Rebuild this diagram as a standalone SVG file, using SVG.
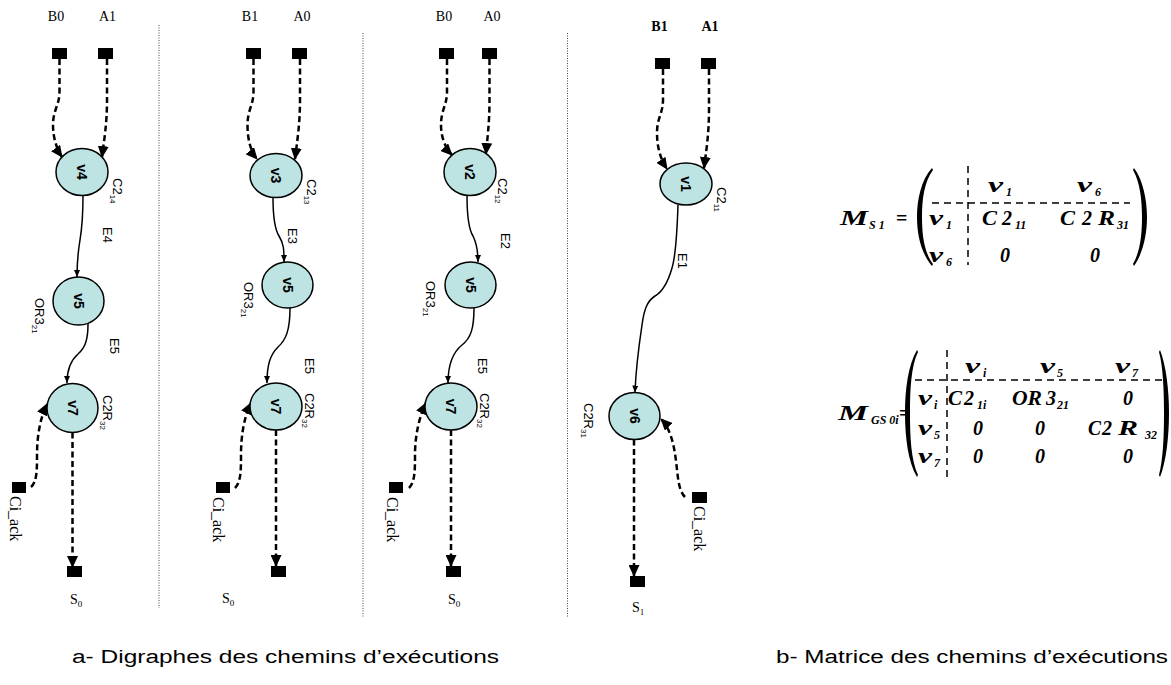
<svg xmlns="http://www.w3.org/2000/svg" width="1171" height="685" viewBox="0 0 1171 685">
<defs>
<style>
.nd ellipse{fill:#bde3e3;stroke:#000;stroke-width:1.5}
.sq{fill:#000}
.vl{font-family:"Liberation Sans",Arial,sans-serif;font-size:14px;font-weight:bold;text-anchor:middle}
.an{font-family:"Liberation Sans",Arial,sans-serif;font-size:13px}
.sr{font-family:"Liberation Serif","Times New Roman",serif;font-size:14px}
.ci{font-family:"Liberation Serif","Times New Roman",serif;font-size:16px}
.io{font-family:"Liberation Serif","Times New Roman",serif;font-size:14px;text-anchor:middle}
.dash{fill:none;stroke:#000;stroke-width:2.5;stroke-dasharray:6 3.5;marker-end:url(#big)}
.sol{fill:none;stroke:#000;stroke-width:1.5;marker-end:url(#small)}
.sep{stroke:#444;stroke-width:1;stroke-dasharray:1 1.5}
.mx{font-family:"Liberation Serif","Times New Roman",serif;font-size:20px;font-weight:bold;font-style:italic}
.ms{font-family:"Liberation Serif","Times New Roman",serif;font-size:12px;font-weight:bold;font-style:italic}
.eq{font-family:"Liberation Serif","Times New Roman",serif;font-size:20px;font-weight:bold}
.md{fill:none;stroke:#000;stroke-width:1.5;stroke-dasharray:7 5}
.cap{font-family:"Liberation Sans",Arial,sans-serif;font-size:18px}
</style>
<marker id="big" viewBox="0 0 12 11" refX="11" refY="5.5" markerWidth="12" markerHeight="11" markerUnits="userSpaceOnUse" orient="auto"><path d="M0,0 L12,5.5 L0,11 z" fill="#000" stroke="none"/></marker>
<marker id="small" viewBox="0 0 7 6" refX="7" refY="3" markerWidth="7" markerHeight="6" markerUnits="userSpaceOnUse" orient="auto"><path d="M0,0 L7,3 L0,6 z" fill="#000" stroke="none"/></marker>
</defs>
<rect width="1171" height="685" fill="#fff"/>

<g id="separators">
<line class="sep" x1="159" y1="25" x2="159" y2="608"/>
<line class="sep" x1="363" y1="33" x2="363" y2="617"/>
<line class="sep" x1="567.5" y1="33" x2="567.5" y2="618"/>
</g>

<g id="connectors">
<!-- panel 1 -->
<path class="dash" d="M59.5,59 L59.5,92 C59.5,105 53,110 53,125 C53,138 57,150 62,157"/>
<path class="dash" d="M107,59 L107,100 C107,125 104,140 102,157"/>
<path class="sol" d="M83,195.5 C83,215 82,228 80,240 C78,252 77,262 77,277"/>
<path class="sol" d="M88,324 C88,340 85,348 78,354 C70,361 67,370 67,383"/>
<path class="dash" d="M31,487 C37,482 37,470 37,455 C37,437 40,418 47,404"/>
<path class="dash" d="M72.5,432.5 L72.5,567"/>
<text class="an" transform="translate(103,227) rotate(90)">E4</text>
<text class="an" transform="translate(110,338) rotate(90)">E5</text>
<!-- panel 2 -->
<path class="dash" d="M253.5,59 L253.5,92 C253.5,105 247.5,110 247.5,125 C247.5,140 251,152 257,159"/>
<path class="dash" d="M300,59 L300,100 C300,125 297,142 295,159"/>
<path class="sol" d="M273,197.5 C273,215 274,228 279,236 C284,244 284,250 284,262"/>
<path class="sol" d="M290,308 C290,330 286,340 278,347 C270,355 267,365 267,383"/>
<path class="dash" d="M235,488 C241,482 241,470 241,455 C241,436 244,417 251,403"/>
<path class="dash" d="M276,430 L276,566"/>
<text class="an" transform="translate(288,228) rotate(90)">E3</text>
<text class="an" transform="translate(305,358) rotate(90)">E5</text>
<!-- panel 3 -->
<path class="dash" d="M447,59 L447,92 C447,105 441,110 441,125 C441,138 446,149 452,155"/>
<path class="dash" d="M489.5,59 L489.5,100 C489.5,125 487,140 486,154"/>
<path class="sol" d="M467,195.5 C467,215 468,228 473,236 C477,244 478,250 478,262"/>
<path class="sol" d="M474,308 C474,328 471,338 462,345 C452,353 448,365 448,383"/>
<path class="dash" d="M409,488 C415,482 415,470 415,455 C415,436 419,417 426,403"/>
<path class="dash" d="M451,430 L451,566"/>
<text class="an" transform="translate(501,233) rotate(90)">E2</text>
<text class="an" transform="translate(478,358) rotate(90)">E5</text>
<!-- panel 4 -->
<path class="dash" d="M663,69 L663,100 C663,113 657,118 657,133 C657,148 661,160 667,169"/>
<path class="dash" d="M709,69 L709,110 C709,135 706,152 704,168"/>
<path class="sol" d="M678,205 C677,235 676,255 672,268 C668,282 662,292 655,296 C647,301 644,310 642,325 C639,345 636,365 635,392.5"/>
<path class="dash" d="M685,497 C678,490 678,476 676,461 C674,444 670,428 661,419"/>
<path class="dash" d="M634,439.5 L634,576"/>
<text class="an" transform="translate(678,253) rotate(90)">E1</text>
</g>

<!-- panel 1 nodes -->
<g id="p1-B0"><rect class="sq" x="52" y="48" width="15" height="11"/><text class="io" x="56" y="21">B0</text></g>
<g id="p1-A1"><rect class="sq" x="98" y="48" width="15" height="11"/><text class="io" x="107.5" y="21">A1</text></g>
<g id="p1-v4" class="nd"><ellipse cx="82" cy="172" rx="26" ry="23.5"/><text class="vl" transform="translate(77,172) rotate(90)">v4</text><text class="an" transform="translate(113,178) rotate(90)">C2<tspan font-size="8" dy="3">14</tspan></text></g>
<g id="p1-v5" class="nd"><ellipse cx="78.5" cy="301" rx="25.5" ry="24"/><text class="vl" transform="translate(73.5,301) rotate(90)">v5</text><text class="an" transform="translate(35,298) rotate(90)">OR3<tspan font-size="8" dy="3">21</tspan></text></g>
<g id="p1-v7" class="nd"><ellipse cx="72.5" cy="408" rx="25.5" ry="24.5"/><text class="vl" transform="translate(67.5,408) rotate(90)">v7</text><text class="an" transform="translate(103,395) rotate(90)">C2R<tspan font-size="8" dy="3">32</tspan></text></g>
<g id="p1-ciack"><rect class="sq" x="12" y="482" width="14" height="11"/><text class="ci" transform="translate(10,496) rotate(90)">Ci_ack</text></g>
<g id="p1-S0"><rect class="sq" x="67" y="566" width="15" height="11"/><text class="sr" x="70" y="604">S<tspan font-size="9" dy="3">0</tspan></text></g>

<!-- panel 2 nodes -->
<g id="p2-B1"><rect class="sq" x="246" y="48" width="15" height="11"/><text class="io" x="250" y="21">B1</text></g>
<g id="p2-A0"><rect class="sq" x="292" y="48" width="15" height="11"/><text class="io" x="302" y="21">A0</text></g>
<g id="p2-v3" class="nd"><ellipse cx="276" cy="175.5" rx="26" ry="22"/><text class="vl" transform="translate(271,175.5) rotate(90)">v3</text><text class="an" transform="translate(307,179) rotate(90)">C2<tspan font-size="8" dy="3">13</tspan></text></g>
<g id="p2-v5" class="nd"><ellipse cx="287.5" cy="285" rx="25.5" ry="23"/><text class="vl" transform="translate(282.5,285) rotate(90)">v5</text><text class="an" transform="translate(244,282) rotate(90)">OR3<tspan font-size="8" dy="3">21</tspan></text></g>
<g id="p2-v7" class="nd"><ellipse cx="276" cy="406.5" rx="26" ry="23.5"/><text class="vl" transform="translate(271,406.5) rotate(90)">v7</text><text class="an" transform="translate(305,393) rotate(90)">C2R<tspan font-size="8" dy="3">32</tspan></text></g>
<g id="p2-ciack"><rect class="sq" x="216" y="482" width="14" height="11"/><text class="ci" transform="translate(213,497) rotate(90)">Ci_ack</text></g>
<g id="p2-S0"><rect class="sq" x="271" y="566" width="15" height="11"/><text class="sr" x="222" y="603">S<tspan font-size="9" dy="3">0</tspan></text></g>

<!-- panel 3 nodes -->
<g id="p3-B0"><rect class="sq" x="439" y="48" width="15" height="11"/><text class="io" x="444" y="21">B0</text></g>
<g id="p3-A0"><rect class="sq" x="482" y="48" width="15" height="11"/><text class="io" x="492" y="21">A0</text></g>
<g id="p3-v2" class="nd"><ellipse cx="470" cy="172" rx="26" ry="23.5"/><text class="vl" transform="translate(465,172) rotate(90)">v2</text><text class="an" transform="translate(498,178) rotate(90)">C2<tspan font-size="8" dy="3">12</tspan></text></g>
<g id="p3-v5" class="nd"><ellipse cx="470.5" cy="285" rx="25.5" ry="23"/><text class="vl" transform="translate(465.5,285) rotate(90)">v5</text><text class="an" transform="translate(426,281) rotate(90)">OR3<tspan font-size="8" dy="3">21</tspan></text></g>
<g id="p3-v7" class="nd"><ellipse cx="451" cy="406.5" rx="26" ry="23.5"/><text class="vl" transform="translate(446,406.5) rotate(90)">v7</text><text class="an" transform="translate(480,393) rotate(90)">C2R<tspan font-size="8" dy="3">32</tspan></text></g>
<g id="p3-ciack"><rect class="sq" x="389" y="482" width="14" height="11"/><text class="ci" transform="translate(387,497) rotate(90)">Ci_ack</text></g>
<g id="p3-S0"><rect class="sq" x="446" y="566" width="15" height="11"/><text class="sr" x="448" y="604">S<tspan font-size="9" dy="3">0</tspan></text></g>

<!-- panel 4 nodes -->
<g id="p4-B1"><rect class="sq" x="655" y="58" width="15" height="11"/><text class="io" x="659.5" y="31" font-weight="bold">B1</text></g>
<g id="p4-A1"><rect class="sq" x="701" y="58" width="15" height="11"/><text class="io" x="710" y="31" font-weight="bold">A1</text></g>
<g id="p4-v1" class="nd"><ellipse cx="686" cy="184" rx="26" ry="21"/><text class="vl" transform="translate(681,184) rotate(90)">v1</text><text class="an" transform="translate(717,187) rotate(90)">C2<tspan font-size="8" dy="3">11</tspan></text></g>
<g id="p4-v6" class="nd"><ellipse cx="634.5" cy="416" rx="25.5" ry="23.5"/><text class="vl" transform="translate(629.5,416) rotate(90)">v6</text><text class="an" transform="translate(584,403) rotate(90)">C2R<tspan font-size="8" dy="3">31</tspan></text></g>
<g id="p4-ciack"><rect class="sq" x="692" y="492" width="15" height="11"/><text class="ci" transform="translate(694,506) rotate(90)">Ci_ack</text></g>
<g id="p4-S1"><rect class="sq" x="630" y="576" width="15" height="11"/><text class="sr" x="632" y="612">S<tspan font-size="9" dy="3">1</tspan></text></g>

<!-- matrix 1 -->
<g id="matrix-MS1">
<text class="mx" x="840" y="225" textLength="28" lengthAdjust="spacingAndGlyphs">M</text>
<text class="ms" x="869" y="229">S 1</text>
<text class="eq" x="896" y="225">=</text>
<path d="M932,168 C921,180 917,200 917,217 C917,235 921,253 932,266 L933,264 C924,252 922,235 922,217 C922,200 924,182 933,170 Z"/>
<path d="M1134,168 C1143,180 1147,200 1147,217 C1147,235 1143,253 1134,266 L1133,264 C1140,252 1142,235 1142,217 C1142,200 1140,182 1133,170 Z"/>
<line class="md" x1="968" y1="166" x2="968" y2="265"/>
<line class="md" x1="932" y1="203" x2="1130" y2="203"/>
<text class="mx" x="988" y="192" textLength="15" lengthAdjust="spacingAndGlyphs">v</text><text class="ms" x="1006" y="196">1</text>
<text class="mx" x="1077" y="192" textLength="15" lengthAdjust="spacingAndGlyphs">v</text><text class="ms" x="1095" y="196">6</text>
<text class="mx" x="929" y="225" textLength="14" lengthAdjust="spacingAndGlyphs">v</text><text class="ms" x="946" y="229">1</text>
<text class="mx" x="982" y="225" textLength="15" lengthAdjust="spacingAndGlyphs">C</text><text class="mx" x="1002" y="225">2</text><text class="ms" x="1015" y="229">11</text>
<text class="mx" x="1060" y="225" textLength="15" lengthAdjust="spacingAndGlyphs">C</text><text class="mx" x="1082" y="225">2</text><text class="mx" x="1098" y="225" textLength="17" lengthAdjust="spacingAndGlyphs">R</text><text class="ms" x="1117" y="229">31</text>
<text class="mx" x="929" y="262" textLength="14" lengthAdjust="spacingAndGlyphs">v</text><text class="ms" x="946" y="266">6</text>
<text class="mx" x="1000" y="262">0</text>
<text class="mx" x="1090" y="262">0</text>
</g>

<!-- matrix 2 -->
<g id="matrix-MGS0i">
<text class="mx" x="838" y="420" textLength="30" lengthAdjust="spacingAndGlyphs">M</text>
<text class="ms" x="871" y="424" font-size="10">GS 0i</text>
<text class="eq" x="899" y="420">=</text>
<path d="M917,350 C908,365 905,390 905,413 C905,437 908,462 917,477 L918,475 C911,460 910,437 910,413 C910,390 911,366 918,352 Z"/>
<path d="M1160,350 C1166,365 1169,390 1169,413 C1169,437 1166,462 1160,477 L1159,475 C1163,460 1164,437 1164,413 C1164,390 1163,366 1159,352 Z"/>
<line class="md" x1="947" y1="350" x2="947" y2="477"/>
<line class="md" x1="915" y1="380" x2="1163" y2="380"/>
<text class="mx" x="965" y="373" textLength="15" lengthAdjust="spacingAndGlyphs">v</text><text class="ms" x="983" y="377">i</text>
<text class="mx" x="1040" y="373" textLength="15" lengthAdjust="spacingAndGlyphs">v</text><text class="ms" x="1057" y="377">5</text>
<text class="mx" x="1115" y="373" textLength="15" lengthAdjust="spacingAndGlyphs">v</text><text class="ms" x="1132" y="377">7</text>
<text class="mx" x="918" y="405" textLength="14" lengthAdjust="spacingAndGlyphs">v</text><text class="ms" x="934" y="409">i</text>
<text class="mx" x="948" y="405" textLength="14" lengthAdjust="spacingAndGlyphs">C</text><text class="mx" x="964" y="405">2</text><text class="ms" x="977" y="409">1i</text>
<text class="mx" x="1012" y="405" textLength="30" lengthAdjust="spacingAndGlyphs">OR</text><text class="mx" x="1046" y="405">3</text><text class="ms" x="1057" y="409">21</text>
<text class="mx" x="1123" y="405">0</text>
<text class="mx" x="918" y="435" textLength="14" lengthAdjust="spacingAndGlyphs">v</text><text class="ms" x="934" y="439">5</text>
<text class="mx" x="973" y="435">0</text>
<text class="mx" x="1035" y="435">0</text>
<text class="mx" x="1088" y="435" textLength="13" lengthAdjust="spacingAndGlyphs">C</text><text class="mx" x="1102" y="435">2</text><text class="mx" x="1118" y="435" textLength="20" lengthAdjust="spacingAndGlyphs">R</text><text class="ms" x="1145" y="439">32</text>
<text class="mx" x="918" y="463" textLength="14" lengthAdjust="spacingAndGlyphs">v</text><text class="ms" x="934" y="467">7</text>
<text class="mx" x="973" y="463">0</text>
<text class="mx" x="1035" y="463">0</text>
<text class="mx" x="1123" y="463">0</text>
</g>

<g id="captions">
<text class="cap" x="72" y="663" textLength="427" lengthAdjust="spacingAndGlyphs">a- Digraphes des chemins d’exécutions</text>
<text class="cap" x="776" y="663" textLength="392" lengthAdjust="spacingAndGlyphs">b- Matrice des chemins d’exécutions</text>
</g>
</svg>
